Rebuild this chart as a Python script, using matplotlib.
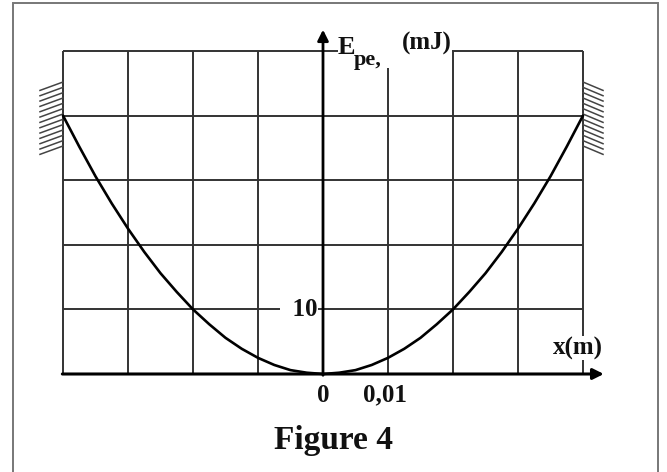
import numpy as np
import matplotlib
matplotlib.use('Agg')
import matplotlib.pyplot as plt
from matplotlib.patches import Rectangle

# elongation x (m) and elastic potential energy Epe (mJ)
x_m = [-0.04, -0.0375, -0.035, -0.0325, -0.03, -0.0275, -0.025, -0.0225, -0.02,
       -0.0175, -0.015, -0.0125, -0.01, -0.0075, -0.005, -0.0025, 0.0,
       0.0025, 0.005, 0.0075, 0.01, 0.0125, 0.015, 0.0175, 0.02,
       0.0225, 0.025, 0.0275, 0.03, 0.0325, 0.035, 0.0375, 0.04]
epe_mJ = [40.0, 35.2, 30.6, 26.4, 22.5, 18.9, 15.6, 12.7, 10.0,
          7.7, 5.6, 3.9, 2.5, 1.4, 0.6, 0.2, 0.0,
          0.2, 0.6, 1.4, 2.5, 3.9, 5.6, 7.7, 10.0,
          12.7, 15.6, 18.9, 22.5, 26.4, 30.6, 35.2, 40.0]

grid_x = [-0.04, -0.03, -0.02, -0.01, 0.0, 0.01, 0.02, 0.03, 0.04]
grid_y = [0, 10, 20, 30, 40, 50]
tick_x = [(0.0, '0'), (0.0096, '0,01')]

W, H = 667, 472
fig = plt.figure(figsize=(W / 100, H / 100), dpi=100)
fig.patch.set_facecolor('white')

# outer grey frame (no bottom edge visible)
fig.add_artist(Rectangle((13 / W, -0.05), (658 - 13) / W, 1.05 - 3 / H,
                         transform=fig.transFigure, fill=False,
                         ec='#777777', lw=1.4))

ax = fig.add_axes([63 / W, (H - 374) / H, 520 / W, 323 / H])
ax.set_xlim(-0.04, 0.04)
ax.set_ylim(0, 50)
ax.axis('off')

gc = '#333333'
ax.vlines(grid_x, 0, 50, colors=gc, lw=1.4, zorder=1, clip_on=False)
ax.hlines(grid_y, -0.04, 0.04, colors=gc, lw=1.4, zorder=1, clip_on=False)

# curve
ax.plot(x_m, epe_mJ, color='black', lw=1.9, zorder=4, clip_on=False,
        solid_capstyle='round', solid_joinstyle='round')

# axes with arrows
ax.annotate('', xy=(0.0432, 0), xytext=(-0.0401, 0), annotation_clip=False,
            arrowprops=dict(arrowstyle='-|>', lw=2.2, color='black',
                            mutation_scale=16, shrinkA=0, shrinkB=0), zorder=5)
ax.annotate('', xy=(0, 53.3), xytext=(0, -0.2), annotation_clip=False,
            arrowprops=dict(arrowstyle='-|>', lw=2.0, color='black',
                            mutation_scale=16, shrinkA=0, shrinkB=0), zorder=5)

# walls (hatching)
starts = np.linspace(45.2, 35.3, 13)
dy = 1.3
for s in starts:
    ax.plot([-0.04, -0.04354], [s, s - dy], color='#444444', lw=1.1,
            clip_on=False, zorder=2)
    ax.plot([0.04, 0.04308], [s, s - dy], color='#444444', lw=1.1,
            clip_on=False, zorder=2)

font = dict(family='Liberation Serif', weight='bold', color='#111111')

# label backing over the top gridline
ax.add_patch(Rectangle((0.0023, 47.4), 0.0176, 5.5, fc='white', ec='none',
                       zorder=3, clip_on=False))
ax.text(0.0023, 49.6, 'E', fontsize=19, ha='left', va='baseline', zorder=6,
        **font)
ax.text(0.0047, 47.9, 'pe,', fontsize=16, ha='left', va='baseline', zorder=6,
        **font)
ax.text(0.0122, 50.2, '(mJ)', fontsize=18, ha='left', va='baseline', zorder=6,
        **font)

ax.text(-0.0008, 10, '  10', fontsize=18, ha='right', va='center', zorder=6,
        bbox=dict(fc='white', ec='none', pad=0), **font)

for xv, lab in tick_x:
    ax.text(xv, -1.5, lab, fontsize=18, ha='center', va='top', zorder=6,
            **font)

ax.text(0.0392, 4.0, 'x(m)', fontsize=18, ha='center', va='center', zorder=6,
        bbox=dict(fc='white', ec='none', pad=0.5), **font)

fig.text(334 / W, 1 - 440 / H, 'Figure 4', fontsize=24, ha='center',
         va='center', **font)

fig.savefig('out.png', dpi=100)
